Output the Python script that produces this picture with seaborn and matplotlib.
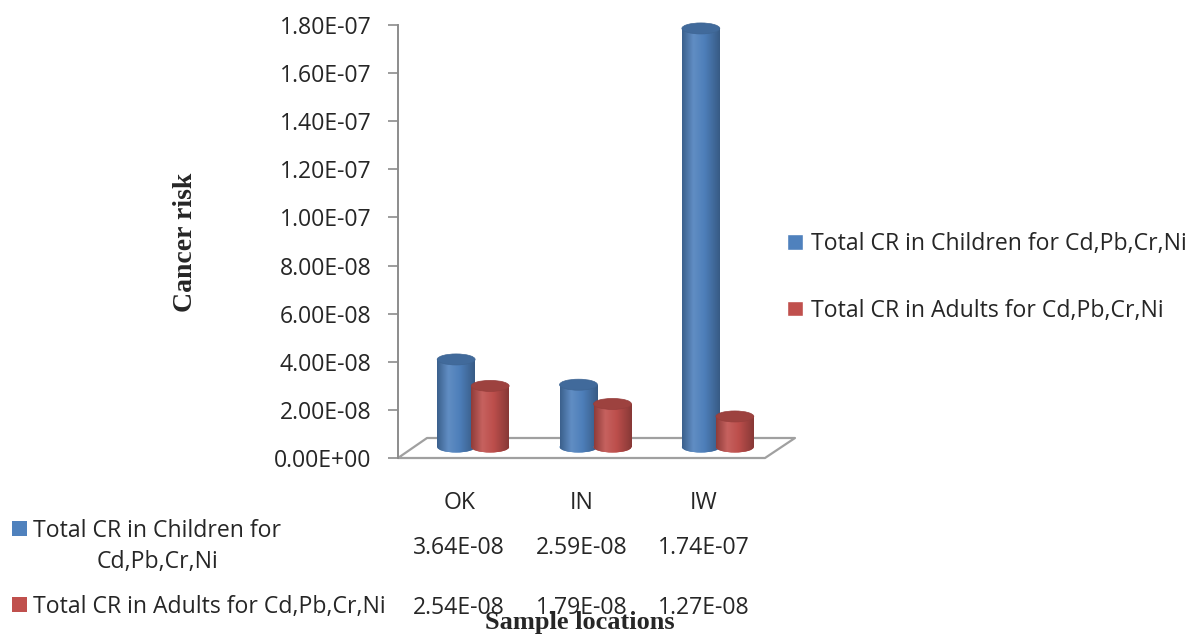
import numpy as np
import pandas as pd
import matplotlib
matplotlib.use("Agg")
import matplotlib.pyplot as plt
import seaborn as sns
from matplotlib.patches import Ellipse, Rectangle
from matplotlib.colors import LinearSegmentedColormap, to_rgb
from matplotlib.transforms import ScaledTranslation, blended_transform_factory

# ---------------- data ----------------
locations = ["OK", "IN", "IW"]
series_names = ["Total CR in Children for Cd,Pb,Cr,Ni",
                "Total CR in Adults for Cd,Pb,Cr,Ni"]
children_cr = [3.64e-8, 2.59e-8, 1.74e-7]
adults_cr = [2.54e-8, 1.79e-8, 1.27e-8]
y_ticks = [0.0, 2e-8, 4e-8, 6e-8, 8e-8, 1e-7, 1.2e-7, 1.4e-7, 1.6e-7, 1.8e-7]

BLUE = "#4F81BD"
RED = "#C0504D"
GRAY = "#A0A0A0"

df = pd.DataFrame({
    "Location": locations * 2,
    "Series": [series_names[0]] * 3 + [series_names[1]] * 3,
    "CR": children_cr + adults_cr,
})

sns.set_style("white")
plt.rcParams["font.family"] = ["Open Sans", "DejaVu Sans"]
FS = 16.6

W, H = 1189, 634
fig = plt.figure(figsize=(W / 100, H / 100), dpi=100)
ax = fig.add_axes([398 / W, 1 - 458 / H, (765 - 398) / W, 433 / H])

sns.barplot(data=df, x="Location", y="CR", hue="Series", order=locations,
            hue_order=series_names, palette=[BLUE, RED], saturation=1,
            width=0.556, edgecolor="none", legend=False, ax=ax)

YMAX = 1.8e-7
ax.set_xlim(-0.5, 2.5)
ax.set_ylim(0, YMAX)

# 3D-like cylinder look
off = ScaledTranslation(0.14, 0.11, fig.dpi_scale_trans)
bar_tr = ax.transData + off
ell_h = 11 / 433 * YMAX


def shade(c, f):
    c = np.array(to_rgb(c))
    if f < 1:
        return tuple(c * f)
    return tuple(c + (1 - c) * (f - 1))


bar_w = 0.31
for k, cont in enumerate(ax.containers):
    base = BLUE if k == 0 else RED
    cmap = LinearSegmentedColormap.from_list(
        "cyl%d" % k,
        [(0.0, shade(base, 0.74)), (0.3, shade(base, 1.10)),
         (0.6, shade(base, 0.98)), (1.0, shade(base, 0.70))])
    z = 2 + k
    for p in cont.patches:
        xc = p.get_x() + p.get_width() / 2
        h = p.get_height()
        x0 = xc - bar_w / 2
        p.set_x(x0)
        p.set_width(bar_w)
        p.set_transform(bar_tr)
        p.set_zorder(z)
        p.set_clip_on(False)
        grad = np.linspace(0, 1, 256)[np.newaxis, :]
        # body
        im = ax.imshow(grad, cmap=cmap, aspect="auto", interpolation="bilinear",
                       extent=(x0, x0 + bar_w, -ell_h, h), transform=bar_tr,
                       zorder=z + 0.1)
        im.set_clip_path(p)
        # rounded bottom
        bot = Ellipse((xc, 0), bar_w, ell_h, transform=bar_tr,
                      facecolor=base, edgecolor="none", zorder=z, clip_on=False)
        ax.add_patch(bot)
        im2 = ax.imshow(grad, cmap=cmap, aspect="auto", interpolation="bilinear",
                        extent=(x0, x0 + bar_w, -ell_h, h), transform=bar_tr,
                        zorder=z + 0.1)
        im2.set_clip_path(bot)
        # top cap
        top = Ellipse((xc, h), bar_w, ell_h, transform=bar_tr,
                      facecolor=shade(base, 0.82), edgecolor=shade(base, 0.78),
                      linewidth=0.5, zorder=z + 0.2, clip_on=False)
        ax.add_patch(top)

ax.set_xlim(-0.5, 2.5)
ax.set_ylim(0, YMAX)

# floor
fx = [0, 1, 1 + 30 / 367, 29 / 367, 0]
fy = [0, 0, 20 / 433, 20 / 433, 0]
ax.plot(fx, fy, transform=ax.transAxes, color=GRAY, lw=1.6, clip_on=False, zorder=1)

# axes styling
for s in ["top", "right", "bottom"]:
    ax.spines[s].set_visible(False)
ax.spines["left"].set_color("#8C8C8C")
ax.spines["left"].set_linewidth(1.4)
ax.set_yticks(y_ticks)
ax.set_yticklabels(["{:.2E}".format(v) for v in y_ticks])
ax.tick_params(axis="y", left=True, length=7.2, width=1.2, color="#8C8C8C",
               pad=12, labelsize=FS)
ax.tick_params(axis="x", bottom=False, pad=20, labelsize=FS)
ax.grid(False)

ax.set_ylabel("Cancer risk", family="Liberation Serif", fontweight="bold", fontsize=20)
ax.yaxis.set_label_coords(-0.545, 0.499)
ax.set_xlabel("Sample locations", family="Liberation Serif", fontweight="bold", fontsize=19)
ax.xaxis.set_label_coords(0.496, -0.353)

# legend
handles = [Rectangle((0, 0), 1, 1, facecolor=BLUE), Rectangle((0, 0), 1, 1, facecolor=RED)]
fig.legend(handles, series_names, loc="upper left", bbox_to_anchor=(787 / W, 1 - 232 / H),
           frameon=False, fontsize=FS, handlelength=0.68, handleheight=0.68,
           handletextpad=0.35, labelspacing=1.85, borderpad=0, borderaxespad=0)

# data table
tr = blended_transform_factory(ax.transData, fig.transFigure)
for i, loc in enumerate(locations):
    ax.text(i, 1 - 554 / H, "{:.2E}".format(children_cr[i]), transform=tr,
            ha="center", va="baseline", fontsize=FS)
    ax.text(i, 1 - 614 / H, "{:.2E}".format(adults_cr[i]), transform=tr,
            ha="center", va="baseline", fontsize=FS)

fig.text(33 / W, 1 - 537 / H, "Total CR in Children for", ha="left", va="baseline", fontsize=FS)
fig.text(97 / W, 1 - 568 / H, "Cd,Pb,Cr,Ni", ha="left", va="baseline", fontsize=FS)
fig.text(33 / W, 1 - 613 / H, series_names[1], ha="left", va="baseline", fontsize=FS)
fig.patches.append(Rectangle((12 / W, 1 - 536 / H), 15 / W, 15 / H, transform=fig.transFigure,
                             facecolor=BLUE, edgecolor="none", figure=fig))
fig.patches.append(Rectangle((12 / W, 1 - 612 / H), 15 / W, 15 / H, transform=fig.transFigure,
                             facecolor=RED, edgecolor="none", figure=fig))

fig.savefig("out.png", dpi=100, facecolor="white")
